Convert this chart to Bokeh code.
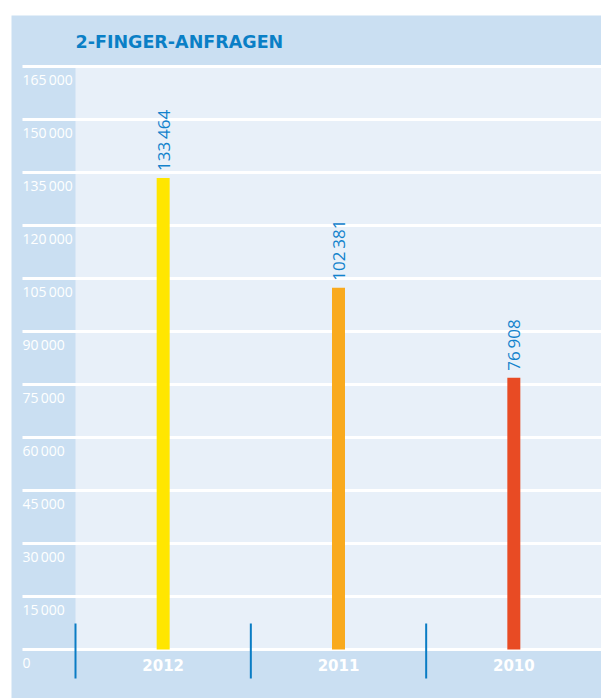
import math
from bokeh.plotting import figure
from bokeh.models import Range1d
from bokeh.embed import file_html
from bokeh.resources import INLINE
from bokeh.core.properties import value

# ---- data ----
years = ["2012", "2011", "2010"]
requests = [133464, 102381, 76908]
value_labels = ["133\u2009464", "102\u2009381", "76\u2009908"]
bar_colors = ["#ffe600", "#f9aa1e", "#e84b24"]
tick_values = [0, 15000, 30000, 45000, 60000, 75000, 90000, 105000,
               120000, 135000, 150000, 165000]
tick_labels = ["0", "15\u2009000", "30\u2009000", "45\u2009000", "60\u2009000",
               "75\u2009000", "90\u2009000", "105\u2009000", "120\u2009000",
               "135\u2009000", "150\u2009000", "165\u2009000"]
title_text = "2-FINGER-ANFRAGEN"

# ---- layout constants (pixels) ----
PX = 526 / 3          # pixels per category
VPX = 15000 / 53      # value per pixel
PANEL = "#cadff2"
PLOT_BG = "#e8f0f9"
BLUE = "#0a7fc6"

x_pos = [i + 0.5 for i in range(len(years))]
n_cat = len(years)

p = figure(width=590, height=683,
           x_range=Range1d(-64 / PX, n_cat),
           y_range=Range1d(-49 * VPX, 634 * VPX),
           output_backend="svg", toolbar_location=None,
           x_axis_type=None, y_axis_type=None,
           min_border=0, margin=(15, 0, 0, 11))
p.outline_line_color = None
p.background_fill_color = PANEL
p.border_fill_color = PANEL
p.grid.visible = False

# plot area
p.quad(left=0, right=n_cat, bottom=tick_values[0], top=tick_values[-1],
       color=PLOT_BG, line_color=None)

# grid lines
gx0 = -53 / PX
p.segment(x0=[gx0] * len(tick_values), x1=[n_cat] * len(tick_values),
          y0=tick_values, y1=tick_values, line_color="white", line_width=3)

# tick labels
p.text(x=[gx0] * len(tick_values), y=tick_values, text=tick_labels,
       text_color="white", text_font=value("Open Sans"),
       text_font_size="14px", text_align="left", text_baseline="middle",
       y_offset=13)

# bars
p.vbar(x=x_pos, top=requests, width=13 / PX, color=bar_colors, line_color=None)

# value labels
p.text(x=x_pos, y=requests, text=value_labels, angle=math.pi / 2,
       text_color="#1282cc", text_font=value("Open Sans"),
       text_font_size="17px", text_align="left", text_baseline="middle",
       y_offset=-7, x_offset=0)

# category separators
p.segment(x0=list(range(n_cat)), x1=list(range(n_cat)),
          y0=[26 * VPX] * n_cat, y1=[-29 * VPX] * n_cat,
          line_color="#0a7cc4", line_width=2)

# category labels
p.text(x=x_pos, y=[0] * n_cat, text=years, text_color="white",
       text_font=value("DejaVu Sans"), text_font_style="bold",
       text_font_size="15px", text_align="center", text_baseline="middle",
       y_offset=15)

# title
p.text(x=[0], y=[p.y_range.end], text=[title_text], text_color=BLUE,
       text_font=value("DejaVu Sans"), text_font_style="bold",
       text_font_size="17.5px", text_align="left", text_baseline="middle",
       y_offset=26.5)

open("out.html", "w").write(file_html(p, INLINE))
